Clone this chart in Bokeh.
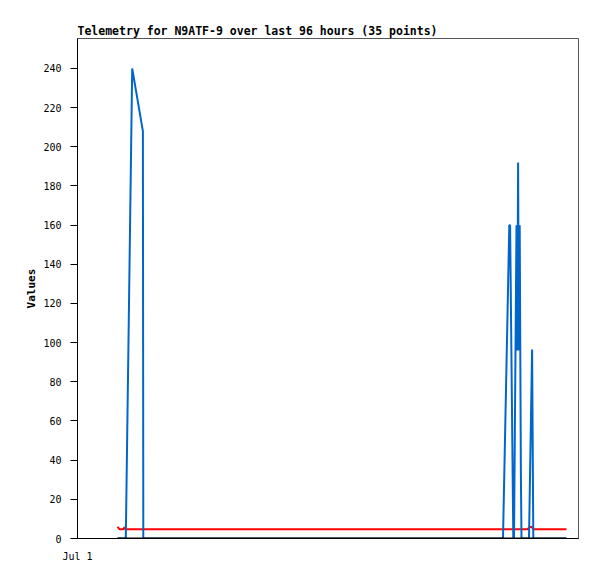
from bokeh.plotting import figure
from bokeh.models import Range1d, FixedTicker
from bokeh.embed import file_html
from bokeh.resources import INLINE

# hours since Jul 1 00:00
PXH = 4.677
def h(px):
    return round((px - 77) / PXH, 3)

blue_hours = [h(v) for v in [117, 125.3, 131.7, 142.4, 142.8, 502.5, 508.8, 509.6, 512.8,
                             513.5, 516.0, 516.8, 517.6, 518.4, 519.2, 520.4, 521.0,
                             528.5, 531.6, 532.8, 566]]
blue_values = [0, 0, 240, 208, 0, 0, 160, 160, 0,
               0, 160, 96, 192, 96, 160, 32, 0,
               0, 96.5, 0, 0]

red_hours = [h(v) for v in [117, 118.5, 119.5, 123, 124, 125, 527, 529, 531, 533, 566]]
red_values = [6, 5, 4.7, 4.7, 5.8, 4.7, 4.7, 5.8, 6.0, 4.7, 4.7]

black_hours = [h(117), h(566)]
black_values = [0, 0]

y_ticks = [0, 20, 40, 60, 80, 100, 120, 140, 160, 180, 200, 220, 240]
x_tick_labels = {0: "Jul 1"}

MONO = "DejaVu Sans Mono"

p = figure(width=589, height=571, output_backend="svg", toolbar_location=None,
           x_range=Range1d(0, (578 - 77) / PXH), y_range=Range1d(0, 255.3),
           min_border_left=77, min_border_right=11, min_border_top=38, min_border_bottom=33,
           title="Telemetry for N9ATF-9 over last 96 hours (35 points)")
p.title.text_font = MONO
p.title.text_font_size = "11.5px"
p.title.text_font_style = "bold"
p.title.text_color = "black"
p.title.align = "left"
p.title.standoff = 2

p.xgrid.visible = False
p.ygrid.visible = False
p.outline_line_color = "#555555"
p.outline_line_width = 1

p.yaxis.ticker = FixedTicker(ticks=y_ticks)
p.yaxis.axis_label = "Values"
p.yaxis.axis_label_text_font = MONO
p.yaxis.axis_label_text_font_style = "bold"
p.yaxis.axis_label_text_font_size = "11px"
p.yaxis.axis_label_text_color = "black"
p.yaxis.axis_label_standoff = 2
p.yaxis.major_label_text_font = MONO
p.yaxis.major_label_text_font_size = "10px"
p.yaxis.major_label_text_color = "black"
p.yaxis.major_label_standoff = 9
p.yaxis.major_tick_out = 7
p.yaxis.major_tick_in = 0
p.yaxis.minor_tick_out = 0
p.yaxis.minor_tick_in = 0
p.yaxis.axis_line_color = "black"
p.yaxis.major_tick_line_color = "black"

p.xaxis.ticker = FixedTicker(ticks=[0])
p.xaxis.major_label_overrides = x_tick_labels
p.xaxis.major_label_text_font = MONO
p.xaxis.major_label_text_font_size = "10px"
p.xaxis.major_label_text_color = "black"
p.xaxis.major_label_standoff = 12
p.xaxis.major_tick_out = 0
p.xaxis.major_tick_in = 0
p.xaxis.minor_tick_out = 0
p.xaxis.minor_tick_in = 0
p.xaxis.axis_line_color = "black"

p.line(red_hours, red_values, line_color="#ff0000", line_width=2)
p.line(blue_hours, blue_values, line_color="#0066cc", line_width=2)
p.line(black_hours, black_values, line_color="black", line_width=2)

open("out.html", "w").write(file_html(p, INLINE))
